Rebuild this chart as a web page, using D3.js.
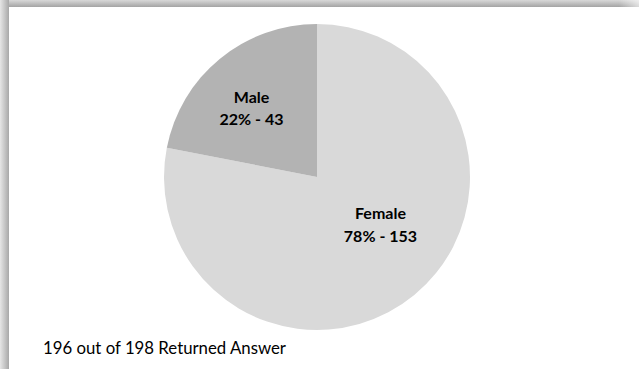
<!DOCTYPE html>
<html>
<head>
<meta charset="utf-8">
<script src="https://cdn.jsdelivr.net/npm/d3@7"></script>
<style>
	body { margin: 0; background: #fff; }
	svg { display: block; }
</style>
</head>
<body>
<div id="pieChart"></div>
<script>
// data
var categories = ['Female', 'Male'];
var counts = [153, 43];
var percents = ['78%', '22%'];
var colors = ['#d9d9d9', '#b3b3b3'];
var footnote = '196 out of 198 Returned Answer';

var width = 639,
	height = 369;

var panel = {
	left: 9,
	top: 7
};

// small nudges from the centroid, like the best-fit label spots in the original
var labelNudge = {
	Female: [8, -21],
	Male: [-10, -3]
};

var svg = d3.select('#pieChart')
	.append('svg')
	.attr('width', width)
	.attr('height', height);

// shadow gradients for the frame
var defs = svg.append('defs');
var gTop = defs.append('linearGradient')
	.attr('id', 'shadowTop')
	.attr('x1', 0).attr('y1', 0).attr('x2', 0).attr('y2', 1);
gTop.append('stop').attr('offset', '0%').attr('stop-color', '#d8d8d8');
gTop.append('stop').attr('offset', '100%').attr('stop-color', '#a4a4a4');

var gLeft = defs.append('linearGradient')
	.attr('id', 'shadowLeft')
	.attr('x1', 0).attr('y1', 0).attr('x2', 1).attr('y2', 0);
gLeft.append('stop').attr('offset', '0%').attr('stop-color', '#e6e6e6');
gLeft.append('stop').attr('offset', '100%').attr('stop-color', '#a8a8a8');

var gFade = defs.append('linearGradient')
	.attr('id', 'fadeRight')
	.attr('x1', 0).attr('y1', 0).attr('x2', 1).attr('y2', 0);
gFade.append('stop').attr('offset', '0%').attr('stop-color', '#fff').attr('stop-opacity', 0);
gFade.append('stop').attr('offset', '100%').attr('stop-color', '#fff').attr('stop-opacity', 0.6);

svg.append('rect')
	.attr('x', 0).attr('y', 0)
	.attr('width', width).attr('height', panel.top)
	.attr('fill', 'url(#shadowTop)');
svg.append('rect')
	.attr('x', 0).attr('y', 0)
	.attr('width', panel.left).attr('height', height)
	.attr('fill', 'url(#shadowLeft)');
svg.append('rect')
	.attr('x', width - 20).attr('y', 0)
	.attr('width', 20).attr('height', panel.top)
	.attr('fill', 'url(#fadeRight)');

// pie
var cx = 317,
	cy = 177,
	radius = 153;

var data = categories.map(function (c, i) {
	return { name: c, value: counts[i], pct: percents[i], color: colors[i] };
});

var pie = d3.pie()
	.sort(null)
	.value(function (d) { return d.value; });

var arc = d3.arc()
	.innerRadius(0)
	.outerRadius(radius);

var labelArc = d3.arc()
	.innerRadius(radius * 0.57)
	.outerRadius(radius * 0.57);

var g = svg.append('g')
	.attr('transform', 'translate(' + cx + ',' + cy + ')');

var arcs = pie(data);

g.selectAll('path')
	.data(arcs)
	.enter()
	.append('path')
	.attr('d', arc)
	.attr('fill', function (d) { return d.data.color; });

// labels
var label = g.selectAll('text.lbl')
	.data(arcs)
	.enter()
	.append('text')
	.attr('class', 'lbl')
	.attr('transform', function (d) {
		var c = labelArc.centroid(d);
		var n = labelNudge[d.data.name];
		return 'translate(' + (c[0] + n[0]) + ',' + (c[1] + n[1]) + ')';
	})
	.attr('text-anchor', 'middle')
	.attr('font-family', 'Lato, sans-serif')
	.attr('font-weight', 'bold')
	.attr('font-size', 16)
	.attr('fill', '#000');

label.append('tspan')
	.attr('x', 0)
	.attr('dy', '-0.25em')
	.text(function (d) { return d.data.name; });

label.append('tspan')
	.attr('x', 0)
	.attr('dy', '1.4em')
	.text(function (d) { return d.data.pct + ' - ' + d.data.value; });

svg.append('text')
	.attr('x', 43)
	.attr('y', 354)
	.attr('font-family', 'Lato, sans-serif')
	.attr('font-size', 16.8)
	.attr('fill', '#000')
	.text(footnote);
</script>
</body>
</html>
